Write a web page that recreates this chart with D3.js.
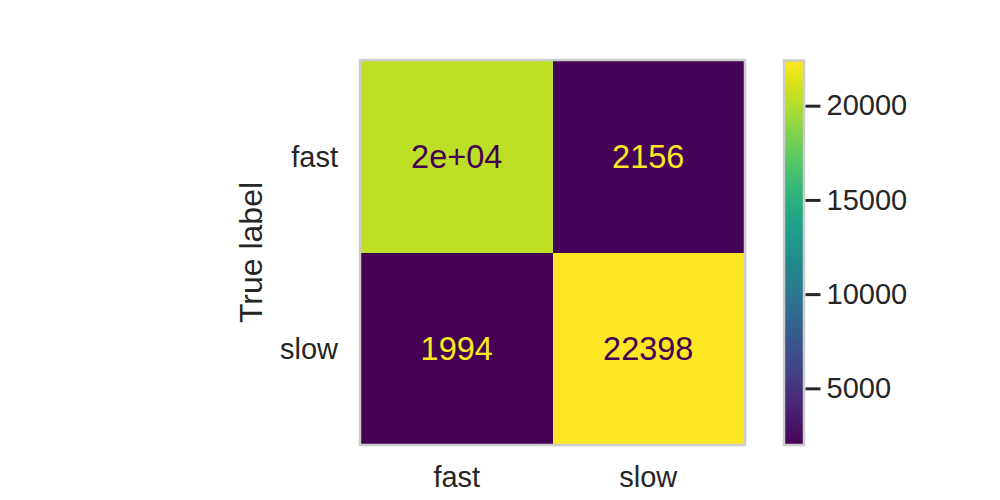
<!DOCTYPE html>
<html>
<head>
<meta charset="utf-8">
<script src="https://cdn.jsdelivr.net/npm/d3@7"></script>
<style>
  html, body { margin: 0; padding: 0; background: #fff; }
  svg { display: block; font-family: "Liberation Sans", Arial, sans-serif; }
</style>
</head>
<body>
<svg id="chart" width="1000" height="500"></svg>
<script>
// ---- data ----
const classes = ["fast", "slow"];
const trueLabels = ["fast", "fast", "slow", "slow"];
const predLabels = ["fast", "slow", "fast", "slow"];
const counts = [20350, 2156, 1994, 22398];
const cellTexts = ["2e+04", "2156", "1994", "22398"];
const colorbarTicks = [5000, 10000, 15000, 20000];
const yAxisTitle = "True label";

const svg = d3.select("#chart");
const inkColor = "#262626";
const spineColor = "#cccccc";

const cells = counts.map((v, i) => ({ t: trueLabels[i], p: predLabels[i], v, txt: cellTexts[i] }));

const x = d3.scaleBand().domain(classes).range([361, 744]);
const y = d3.scaleBand().domain(classes).range([61, 444]);

const vmin = d3.min(counts), vmax = d3.max(counts);
const color = d3.scaleSequential(d3.interpolateViridis).domain([vmin, vmax]);
const thresh = (vmin + vmax) / 2;

// cells
svg.append("g").selectAll("rect").data(cells).join("rect")
  .attr("x", d => x(d.p)).attr("y", d => y(d.t))
  .attr("width", x.bandwidth()).attr("height", y.bandwidth())
  .attr("fill", d => color(d.v))
  .attr("shape-rendering", "crispEdges");

// annotations
svg.append("g").selectAll("text").data(cells).join("text")
  .attr("x", d => x(d.p) + x.bandwidth() / 2)
  .attr("y", d => y(d.t) + y.bandwidth() / 2)
  .attr("dy", "0.36em")
  .attr("text-anchor", "middle")
  .attr("font-size", 32.5)
  .attr("fill", d => d.v > thresh ? d3.interpolateViridis(0) : d3.interpolateViridis(1))
  .text(d => d.txt);

// frame
svg.append("rect")
  .attr("x", 360).attr("y", 60).attr("width", 385).attr("height", 385)
  .attr("fill", "none").attr("stroke", spineColor).attr("stroke-width", 2.5);

// y tick labels
svg.append("g").selectAll("text").data(classes).join("text")
  .attr("x", 338).attr("y", d => y(d) + y.bandwidth() / 2)
  .attr("dy", "0.36em").attr("text-anchor", "end")
  .attr("font-size", 29).attr("fill", inkColor).text(d => d);

// x tick labels
svg.append("g").selectAll("text").data(classes).join("text")
  .attr("x", d => x(d) + x.bandwidth() / 2).attr("y", 487)
  .attr("text-anchor", "middle")
  .attr("font-size", 29).attr("fill", inkColor).text(d => d);

// y axis title
svg.append("text")
  .attr("transform", `translate(262, ${(61 + 444) / 2}) rotate(-90)`)
  .attr("text-anchor", "middle")
  .attr("font-size", 32).attr("fill", inkColor).text(yAxisTitle);

// colorbar
const cbX = 784, cbW = 20, cbTop = 60.5, cbBot = 445;
const cbScale = d3.scaleLinear().domain([vmin, vmax]).range([cbBot, cbTop]);
const defs = svg.append("defs");
const grad = defs.append("linearGradient").attr("id", "vir")
  .attr("x1", 0).attr("y1", 1).attr("x2", 0).attr("y2", 0);
d3.range(0, 1.0001, 0.02).forEach(t => {
  grad.append("stop").attr("offset", t).attr("stop-color", d3.interpolateViridis(t));
});
svg.append("rect")
  .attr("x", cbX).attr("y", cbTop).attr("width", cbW).attr("height", cbBot - cbTop)
  .attr("fill", "url(#vir)");
svg.append("rect")
  .attr("x", cbX).attr("y", cbTop).attr("width", cbW).attr("height", cbBot - cbTop)
  .attr("fill", "none").attr("stroke", spineColor).attr("stroke-width", 2.5);

const cbAxis = d3.axisRight(cbScale).tickValues(colorbarTicks).tickSize(15).tickPadding(6)
  .tickFormat(d3.format("d"));
const cbG = svg.append("g").attr("transform", `translate(${cbX + cbW + 1.5},0)`).call(cbAxis);
cbG.select(".domain").remove();
cbG.selectAll(".tick line").attr("stroke", inkColor).attr("stroke-width", 3);
cbG.selectAll(".tick text").attr("fill", inkColor).attr("font-size", 29)
  .attr("font-family", "'Liberation Sans', Arial, sans-serif");
</script>
</body>
</html>
